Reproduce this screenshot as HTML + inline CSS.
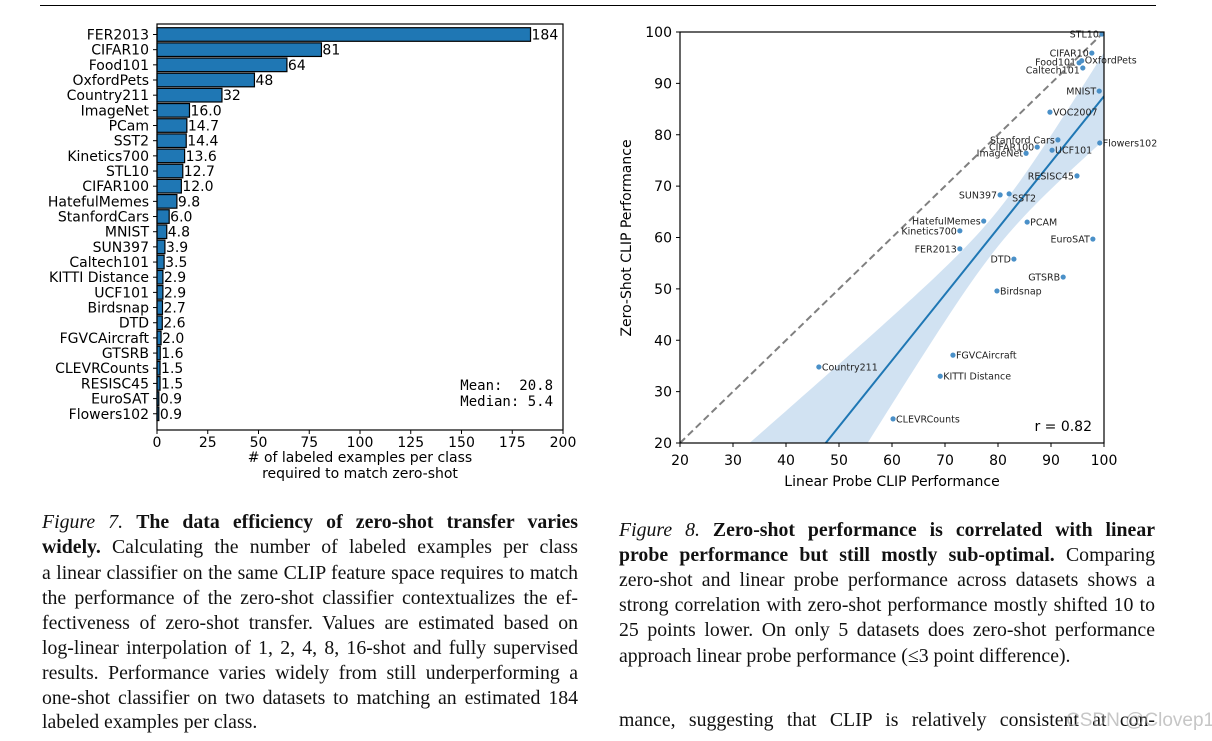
<!DOCTYPE html>
<html><head><meta charset="utf-8">
<style>
html,body{margin:0;padding:0;background:#fff;}
body{width:1212px;height:741px;position:relative;overflow:hidden;}
.cap{position:absolute;font-family:"Liberation Serif",serif;font-size:19.8px;line-height:25px;color:#111;text-align:justify;text-align-last:justify;white-space:nowrap;}
.cap.last{text-align-last:left;}
svg text{font-family:"DejaVu Sans","Liberation Sans",sans-serif;}
svg text.mono{font-family:"DejaVu Sans Mono","Liberation Mono",monospace;}
</style></head>
<body>
<div style="position:absolute;left:40px;top:5px;width:1116px;height:1px;background:#000"></div>
<svg id="bar" width="600" height="490" style="position:absolute;left:0;top:0"></svg>
<svg id="sc" width="1212" height="500" style="position:absolute;left:0;top:0"></svg>

<div>
<div class="cap" style="left:42px;top:510px;width:536px"><i>Figure 7.</i> <b>The data efficiency of zero-shot transfer varies</b></div>
<div class="cap" style="left:42px;top:535px;width:536px"><b>widely.</b> Calculating the number of labeled examples per class</div>
<div class="cap" style="left:42px;top:561px;width:536px;letter-spacing:-0.05px">a linear classifier on the same CLIP feature space requires to match</div>
<div class="cap" style="left:42px;top:586px;width:536px">the performance of the zero-shot classifier contextualizes the ef-</div>
<div class="cap" style="left:42px;top:611px;width:536px">fectiveness of zero-shot transfer. Values are estimated based on</div>
<div class="cap" style="left:42px;top:636px;width:536px">log-linear interpolation of 1, 2, 4, 8, 16-shot and fully supervised</div>
<div class="cap" style="left:42px;top:661px;width:536px">results. Performance varies widely from still underperforming a</div>
<div class="cap" style="left:42px;top:686px;width:536px">one-shot classifier on two datasets to matching an estimated 184</div>
<div class="cap last" style="left:42px;top:710px;width:536px">labeled examples per class.</div>
</div>
<div>
<div class="cap" style="left:619px;top:518px;width:536px"><i>Figure 8.</i> <b>Zero-shot performance is correlated with linear</b></div>
<div class="cap" style="left:619px;top:543px;width:536px"><b>probe performance but still mostly sub-optimal.</b> Comparing</div>
<div class="cap" style="left:619px;top:568px;width:536px">zero-shot and linear probe performance across datasets shows a</div>
<div class="cap" style="left:619px;top:593px;width:536px">strong correlation with zero-shot performance mostly shifted 10 to</div>
<div class="cap" style="left:619px;top:618px;width:536px">25 points lower. On only 5 datasets does zero-shot performance</div>
<div class="cap last" style="left:619px;top:644px;width:536px">approach linear probe performance (≤3 point difference).</div>
<div class="cap" style="left:619px;top:708px;width:536px">mance, suggesting that CLIP is relatively consistent at con-</div>
</div>
<div style="position:absolute;left:1066px;top:710px;white-space:nowrap;font-family:'Liberation Sans',sans-serif;font-size:19px;color:rgba(160,160,160,0.6)">CSDN @Clovep1</div>

<script>
const NS="http://www.w3.org/2000/svg";
function mk(parent,tag,attrs,txt){const e=document.createElementNS(NS,tag);for(const k in attrs)e.setAttribute(k,attrs[k]);if(txt!==undefined)e.textContent=txt;parent.appendChild(e);return e;}

// ---------- Bar chart data ----------
const barCategories=["FER2013","CIFAR10","Food101","OxfordPets","Country211","ImageNet","PCam","SST2","Kinetics700","STL10","CIFAR100","HatefulMemes","StanfordCars","MNIST","SUN397","Caltech101","KITTI Distance","UCF101","Birdsnap","DTD","FGVCAircraft","GTSRB","CLEVRCounts","RESISC45","EuroSAT","Flowers102"];
const barValues=[184,81,64,48,32,16.0,14.7,14.4,13.6,12.7,12.0,9.8,6.0,4.8,3.9,3.5,2.9,2.9,2.7,2.6,2.0,1.6,1.5,1.5,0.9,0.9];
const barTicks=[0,25,50,75,100,125,150,175,200];

// ---------- Scatter data ----------
const scNames=["STL10","CIFAR10","Food101","OxfordPets","Caltech101","MNIST","VOC2007","Stanford Cars","CIFAR100","ImageNet","UCF101","Flowers102","RESISC45","SUN397","SST2","HatefulMemes","Kinetics700","PCAM","EuroSAT","FER2013","DTD","GTSRB","Birdsnap","FGVCAircraft","Country211","KITTI Distance","CLEVRCounts"];
const scLinear=[99.6,97.7,95.3,95.8,96.0,99.1,89.8,91.3,87.4,85.3,90.2,99.2,94.9,80.4,82.1,77.3,72.8,85.5,97.9,72.8,83.0,92.3,79.8,71.5,46.2,69.1,60.2];
const scZero=[99.6,95.9,94.0,94.4,93.0,88.5,84.4,79.0,77.6,76.4,77.0,78.4,72.0,68.3,68.5,63.2,61.3,63.0,59.7,57.8,55.8,52.3,49.6,37.1,34.8,33.0,24.7];
const scTicks=[20,30,40,50,60,70,80,90,100];
const fitLine=[1.2857,-41.07]; // slope, intercept

// ---------- Bar chart ----------
(function(){
const s=document.getElementById('bar');
const L=157,R=563,T=24,B=430;
const xb=v=>L+v*(R-L)/200;
const yb=i=>34.5+i*15.17;
barValues.forEach((v,i)=>{
  const r=mk(s,'rect',{x:L,y:yb(i)-6.8,width:Math.max(xb(v)-L,1),height:13.6,fill:'#1f77b4',stroke:'#000','stroke-width':1.2});
  
  
  const t=mk(s,'text',{x:xb(v)+1,y:yb(i)+5,'font-size':14,fill:'#000'},v>=20?String(Math.round(v)):v.toFixed(1));
  
  
  const c=mk(s,'text',{x:L-8,y:yb(i)+5,'font-size':14,'text-anchor':'end',fill:'#000'},barCategories[i]);
  
  
  mk(s,'line',{x1:L-4,x2:L,y1:yb(i),y2:yb(i),stroke:'#000','stroke-width':1});
});
const fr=mk(s,'rect',{x:L,y:T,width:R-L,height:B-T,fill:'none',stroke:'#000','stroke-width':1.2});


barTicks.forEach(v=>{
  mk(s,'line',{x1:xb(v),x2:xb(v),y1:B,y2:B+4,stroke:'#000'});
  const t=mk(s,'text',{x:xb(v),y:B+17,'font-size':14,'text-anchor':'middle'},String(v));
  
  
});
const a1=mk(s,'text',{x:360,y:462,'font-size':14,'text-anchor':'middle'},'# of labeled examples per class');


mk(s,'text',{x:360,y:478,'font-size':14,'text-anchor':'middle'},'required to match zero-shot');
const m1=mk(s,'text',{x:553,y:390,'font-size':14,'text-anchor':'end','class':'mono'},'Mean:\u00a0\u00a020.8');


const m2=mk(s,'text',{x:553,y:406,'font-size':14,'text-anchor':'end','class':'mono'},'Median:\u00a05.4');


})();

// ---------- Scatter ----------
(function(){
const s=document.getElementById('sc');
const L=680,R=1104,T=32,B=443;
const xs=v=>L+(v-20)*(R-L)/80;
const ys=v=>B-(v-20)*(B-T)/80;
const defs=mk(s,'defs',{});
const cp=mk(defs,'clipPath',{id:'clipS'});
mk(cp,'rect',{x:L,y:T-1,width:R-L,height:B-T+1});
const g=mk(s,'g',{'clip-path':'url(#clipS)'});
const [m,b]=fitLine;
let up=[],lo=[];
for(let x=20;x<=100.01;x+=1){const w=Math.sqrt(12.25+0.15*(x-80)*(x-80));const yv=m*x+b;up.push(xs(x)+','+ys(yv+w));lo.push(xs(x)+','+ys(yv-w));}
const band=mk(g,'polygon',{points:up.concat(lo.reverse()).join(' '),fill:'#c6dbef','fill-opacity':0.8});


const dl=mk(g,'line',{x1:xs(20),y1:ys(20),x2:xs(100),y2:ys(100),stroke:'#808080','stroke-width':2,'stroke-dasharray':'7,4'});


const fl=mk(g,'line',{x1:xs(20),y1:ys(m*20+b),x2:xs(100),y2:ys(m*100+b),stroke:'#1f77b4','stroke-width':2});


const rightLabels=["OxfordPets","VOC2007","UCF101","Flowers102","SST2","PCAM","Birdsnap","FGVCAircraft","Country211","KITTI Distance","CLEVRCounts"];
const dy={"SST2":4,"Food101":-1,"Caltech101":2,"OxfordPets":-1};
scNames.forEach((n,i)=>{
  const cx=xs(scLinear[i]),cy=ys(scZero[i]);
  const c=mk(s,'circle',{cx:cx,cy:cy,r:2.6,fill:'#4a90c8'});
  
  
  const r=rightLabels.includes(n);
  const t=mk(s,'text',{x:r?cx+3:cx-3,y:cy+3.5+(dy[n]||0),'font-size':9.5,'text-anchor':r?'start':'end',fill:'#222'},n);
  
  
});
const fr=mk(s,'rect',{x:L,y:T,width:R-L,height:B-T,fill:'none',stroke:'#000','stroke-width':1.2});


scTicks.forEach(v=>{
  mk(s,'line',{x1:xs(v),x2:xs(v),y1:B,y2:B+4,stroke:'#000'});
  const t=mk(s,'text',{x:xs(v),y:B+22,'font-size':14,'text-anchor':'middle'},String(v));
  
  
  mk(s,'line',{x1:L-4,x2:L,y1:ys(v),y2:ys(v),stroke:'#000'});
  const u=mk(s,'text',{x:L-8,y:ys(v)+5,'font-size':14,'text-anchor':'end'},String(v));
  
  
});
const xt=mk(s,'text',{x:892,y:486,'font-size':14,'text-anchor':'middle'},'Linear Probe CLIP Performance');


const yt=mk(s,'text',{x:0,y:0,'font-size':14,'text-anchor':'middle',transform:'translate(631,238) rotate(-90)'},'Zero-Shot CLIP Performance');


const rt=mk(s,'text',{x:1092,y:431,'font-size':14,'text-anchor':'end'},'r = 0.82');


})();
</script>
</body></html>
